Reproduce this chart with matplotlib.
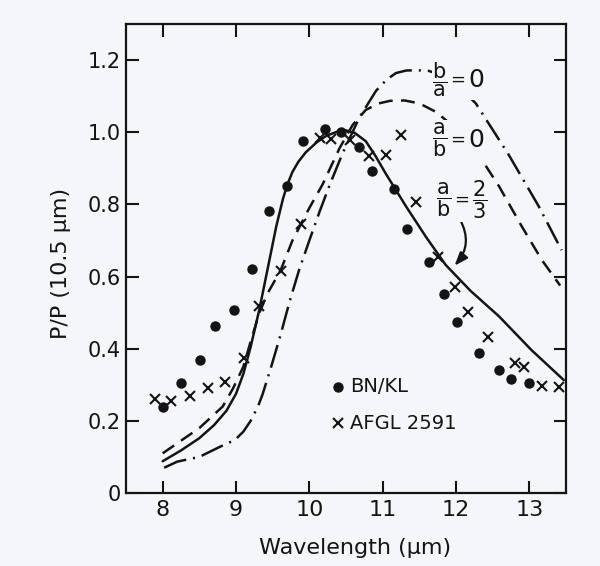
import numpy as np
import matplotlib
matplotlib.use("Agg")
import matplotlib.pyplot as plt
from matplotlib.offsetbox import TextArea, HPacker, AnnotationBbox

plt.rcParams['font.family'] = ['DejaVu Sans']
plt.rcParams['mathtext.fontset'] = 'dejavusans'
plt.rcParams['lines.scale_dashes'] = False

# ---- data ----
bn_x = [8.00, 8.25, 8.51, 8.72, 8.97, 9.22, 9.45, 9.70, 9.91, 10.21, 10.43, 10.68,
        10.86, 11.16, 11.33, 11.63, 11.84, 12.02, 12.31, 12.59, 12.75, 12.99]
bn_y = [0.237, 0.306, 0.369, 0.463, 0.507, 0.621, 0.782, 0.852, 0.976, 1.008, 1.000, 0.960,
        0.893, 0.843, 0.732, 0.641, 0.552, 0.475, 0.389, 0.341, 0.315, 0.306]

afgl_x = [7.89, 8.12, 8.37, 8.62, 8.85, 9.11, 9.32, 9.61, 9.89, 10.14, 10.30, 10.55,
          10.82, 11.05, 11.25, 11.45, 11.76, 11.98, 12.16, 12.44, 12.81, 12.93, 13.17, 13.40]
afgl_y = [0.260, 0.256, 0.270, 0.290, 0.307, 0.373, 0.518, 0.616, 0.747, 0.983, 0.980, 0.978,
          0.934, 0.937, 0.992, 0.807, 0.653, 0.570, 0.503, 0.432, 0.359, 0.350, 0.297, 0.295]

# model a/b = 2/3 (solid)
m23_x = [8.0, 8.25, 8.5, 8.7, 8.87, 9.0, 9.1, 9.2, 9.32, 9.45, 9.55, 9.64, 9.70, 9.77, 9.85,
         9.95, 10.1, 10.23, 10.4, 10.5, 10.62, 10.77, 10.9, 11.04, 11.32, 11.59, 11.86, 12.2,
         12.59, 13.03, 13.47]
m23_y = [0.088, 0.118, 0.152, 0.188, 0.228, 0.275, 0.33, 0.405, 0.51, 0.64, 0.74, 0.815, 0.855,
         0.89, 0.918, 0.944, 0.972, 0.99, 1.003, 1.005, 0.998, 0.975, 0.935, 0.886, 0.794, 0.71,
         0.632, 0.56, 0.489, 0.396, 0.313]

# model a/b = 0 (dashed)
m0_x = [8.0, 8.5, 8.82, 8.96, 9.1, 9.2, 9.32, 9.43, 9.61, 9.77, 9.89, 10.0, 10.18, 10.41,
        10.59, 10.77, 10.95, 11.1, 11.3, 11.5, 11.73, 12.0, 12.31, 12.59, 12.9, 13.17, 13.42]
m0_y = [0.11, 0.18, 0.24, 0.29, 0.35, 0.42, 0.50, 0.553, 0.618, 0.70, 0.747, 0.79, 0.855, 0.955,
        1.02, 1.062, 1.08, 1.087, 1.088, 1.08, 1.056, 1.01, 0.937, 0.849, 0.738, 0.646, 0.575]

# model b/a = 0 (dash-dot)
mb_x = [8.02, 8.2, 8.5, 8.78, 8.91, 9.0, 9.1, 9.2, 9.3, 9.36, 9.48, 9.61, 9.73, 9.86, 10.0,
        10.14, 10.27, 10.45, 10.68, 10.91, 11.05, 11.18, 11.32, 11.45, 11.63, 11.85, 12.04,
        12.27, 12.72, 13.13, 13.44]
mb_y = [0.07, 0.087, 0.10, 0.128, 0.14, 0.15, 0.17, 0.20, 0.24, 0.272, 0.35, 0.44, 0.53, 0.618,
        0.70, 0.78, 0.85, 0.94, 1.04, 1.115, 1.145, 1.164, 1.171, 1.172, 1.17, 1.155, 1.126,
        1.08, 0.937, 0.794, 0.673]

xticks = [8, 9, 10, 11, 12, 13]
yticks = [0, 0.2, 0.4, 0.6, 0.8, 1.0, 1.2]
ytick_labels = ['0', '0.2', '0.4', '0.6', '0.8', '1.0', '1.2']

bg = '#f5f6f9'
ink = '#141414'

fig = plt.figure(figsize=(6.0, 5.66), dpi=100, facecolor=bg)
ax = fig.add_axes([126/600, 1 - 493/566, 440/600, 469/566], facecolor=bg)

lw = 1.8
ax.plot(m23_x, m23_y, color=ink, lw=lw, solid_capstyle='round', solid_joinstyle='round', zorder=2)
ax.plot(m0_x, m0_y, color=ink, lw=lw, dashes=(10, 6), zorder=2)
ax.plot(mb_x, mb_y, color=ink, lw=lw, dashes=(17, 5, 1.5, 5), zorder=2)

ax.plot(bn_x, bn_y, 'o', color=ink, ms=7.5, mec='none', zorder=3)
ax.plot(afgl_x, afgl_y, 'x', color=ink, ms=6.5, mew=1.5, zorder=3)

# legend drawn by hand
ax.plot([10.39], [0.295], 'o', color=ink, ms=7.5, mec='none')
ax.text(10.55, 0.295, 'BN/KL', fontsize=14, color=ink, ha='left', va='center')
ax.plot([10.39], [0.194], 'x', color=ink, ms=6.5, mew=1.5)
ax.text(10.55, 0.194, 'AFGL 2591', fontsize=14, color=ink, ha='left', va='center')


# curve labels (fraction pieces packed side by side)
def frac_label(x, y, parts):
    kids = [TextArea(s, textprops=dict(fontsize=fs, color=ink)) for s, fs in parts]
    pack = HPacker(children=kids, align='center', pad=0, sep=2)
    ab = AnnotationBbox(pack, (x, y), xycoords='data', frameon=True, pad=0.05,
                        box_alignment=(0.5, 0.5),
                        bboxprops=dict(fc=bg, ec='none'), zorder=4)
    ax.add_artist(ab)


frac_label(12.03, 1.145, [(r'$\dfrac{\mathrm{b}}{\mathrm{a}}$', 15), ('=', 13), ('0', 18)])
frac_label(12.03, 0.978, [(r'$\dfrac{\mathrm{a}}{\mathrm{b}}$', 15), ('=', 13), ('0', 18)])
frac_label(12.08, 0.812, [(r'$\dfrac{\mathrm{a}}{\mathrm{b}}$', 15), ('=', 13),
                          (r'$\dfrac{2}{3}$', 15)])

ax.annotate('', xy=(11.98, 0.63), xytext=(12.05, 0.76),
            arrowprops=dict(arrowstyle='-|>,head_length=0.8,head_width=0.3', color=ink, lw=1.6,
                            connectionstyle='arc3,rad=-0.35', shrinkA=0, shrinkB=0))

ax.set_xlim(7.5, 13.5)
ax.set_ylim(0, 1.3)
ax.set_xticks(xticks)
ax.set_xticklabels([str(t) for t in xticks])
ax.set_yticks(yticks)
ax.set_yticklabels(ytick_labels)

ax.tick_params(axis='both', which='both', direction='in', length=9, width=1.5,
               top=True, right=True, colors=ink)
ax.tick_params(axis='x', labelsize=16, pad=5)
ax.tick_params(axis='y', labelsize=15, pad=4)
for s in ax.spines.values():
    s.set_linewidth(1.6)
    s.set_color(ink)

ax.text(0.52, -0.117, 'Wavelength (μm)', transform=ax.transAxes, fontsize=16,
        color=ink, ha='center', va='center')
ax.text(-0.148, 0.49, 'P/P (10.5 μm)', transform=ax.transAxes, fontsize=16,
        color=ink, ha='center', va='center', rotation=90)

fig.savefig('out.png', dpi=100, facecolor=bg)
